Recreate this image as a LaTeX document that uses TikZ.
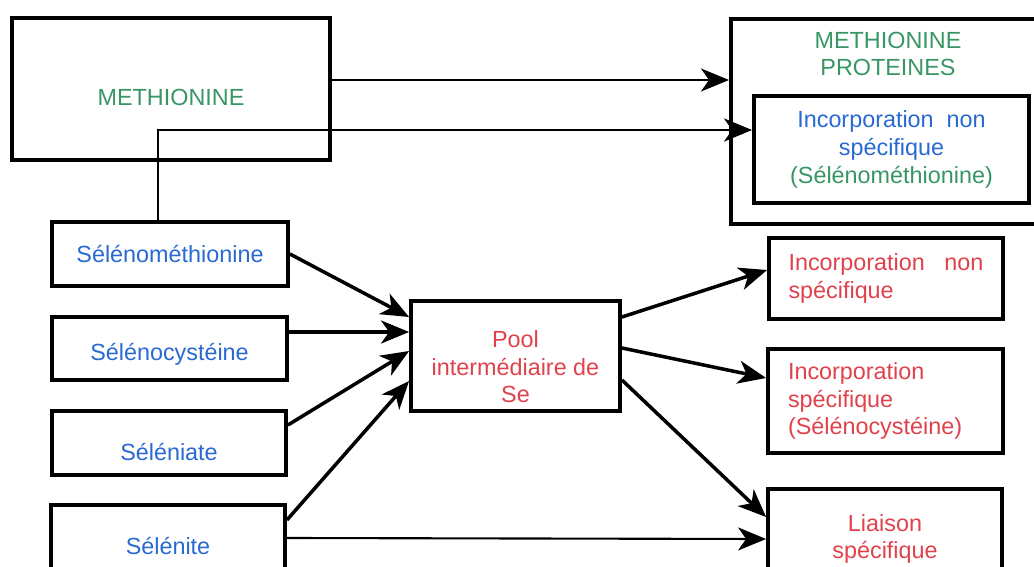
\documentclass[tikz,border=0pt]{standalone}
\usepackage{fontspec}
\setmainfont{Liberation Sans}
\usetikzlibrary{positioning,arrows.meta,calc}

\definecolor{metgreen}{RGB}{55,150,100}
\definecolor{selblue}{RGB}{40,105,210}
\definecolor{selred}{RGB}{225,65,75}

\begin{document}
\begin{tikzpicture}[x=0.02cm,y=-0.02cm]
		\tikzstyle{block} = [rectangle,draw=black,line width=2.2pt,inner sep=0pt,
			font=\fontsize{13.3}{15.7}\selectfont]
		\tikzstyle{arrow} = [line width=2pt,-{Stealth[length=0.56cm,width=0.46cm,inset=0.16cm]}]
		
		\useasboundingbox (0,0) rectangle (1034,567);
		
		% top part
		\node[block,text=metgreen,minimum width=6.36cm,minimum height=2.84cm,text height=18.5pt] (meth) at (171,89) {METHIONINE};
		\node[block,anchor=north west,minimum width=7cm,minimum height=4.1cm] (prot) at (729,17) {};
		\node[text=metgreen,align=center,font=\fontsize{13.3}{15.7}\selectfont] (protlbl) at (888,54) {METHIONINE\\PROTEINES};
		\node[block,align=center,minimum width=5.5cm,minimum height=2.14cm] (nonspec1) at (891.5,149.5)
			{\textcolor{selblue}{Incorporation~ non}\\\textcolor{selblue}{spécifique}\\\textcolor{metgreen}{(Sélénométhionine)}};
		
		% sources
		\node[block,text=selblue,minimum width=4.72cm,minimum height=1.28cm] (sem) at (170,254) {Sélénométhionine};
		\node[block,text=selblue,minimum width=4.7cm,minimum height=1.26cm,text height=13.5pt,text depth=0pt] (sec) at (169.5,348.5) {Sélénocystéine};
		\node[block,text=selblue,minimum width=4.68cm,minimum height=1.28cm,text height=20pt] (sea) at (169,443) {Séléniate};
		\node[block,text=selblue,minimum width=4.68cm,minimum height=1.28cm,text height=20pt] (sei) at (168,537) {Sélénite};
		
		% pool
		\node[block,text=selred,align=center,minimum width=4.18cm,minimum height=2.2cm] (pool) at (515.5,356)
			{\rule{0pt}{22pt}Pool\\intermédiaire de\\Se};
		
		% targets
		\node[block,text=selred,align=left,text width=3.9cm,minimum width=4.68cm,minimum height=1.62cm] (nonspec2) at (886,278.5)
			{Incorporation\hfill non\\spécifique};
		\node[block,text=selred,align=left,text width=3.9cm,minimum width=4.7cm,minimum height=2.08cm] (spec) at (885.5,401)
			{Incorporation\\spécifique\\(Sélénocystéine)};
		\node[block,text=selred,align=center,minimum width=4.68cm,minimum height=2.0cm] (liais) at (885,539) {Liaison\\spécifique};
		
		\coordinate (m1) at ([yshift=0.18cm]meth.east);
		\coordinate (s1) at ([xshift=-0.24cm]sem.north);
		
		\draw[arrow,line width=1.7pt] (m1)--(m1 -| prot.west);
		\draw[arrow,line width=1.7pt] (s1)|-([yshift=0.39cm]nonspec1.west);
		
		\draw[arrow] (sem.east)--([yshift=0.78cm]pool.west);
		\draw[arrow] ([yshift=0.33cm]sec.east)--([yshift=0.48cm]pool.west);
		\draw[arrow] ([yshift=0.36cm]sea.east)--([yshift=0.1cm]pool.west);
		\draw[arrow] ([yshift=0.34cm]sei.east)--([yshift=-0.5cm]pool.west);
		\draw[arrow,line width=1.2pt] ([yshift=-0.02cm]sei.east)--(liais.west);
		
		\draw[arrow] ([yshift=0.78cm]pool.east)--([yshift=0.17cm]nonspec2.west);
		\draw[arrow] ([yshift=0.16cm]pool.east)--([yshift=0.46cm]spec.west);
		\draw[arrow] ([yshift=-0.48cm]pool.east)--([yshift=0.44cm]liais.west);
	\end{tikzpicture}
\end{document}
